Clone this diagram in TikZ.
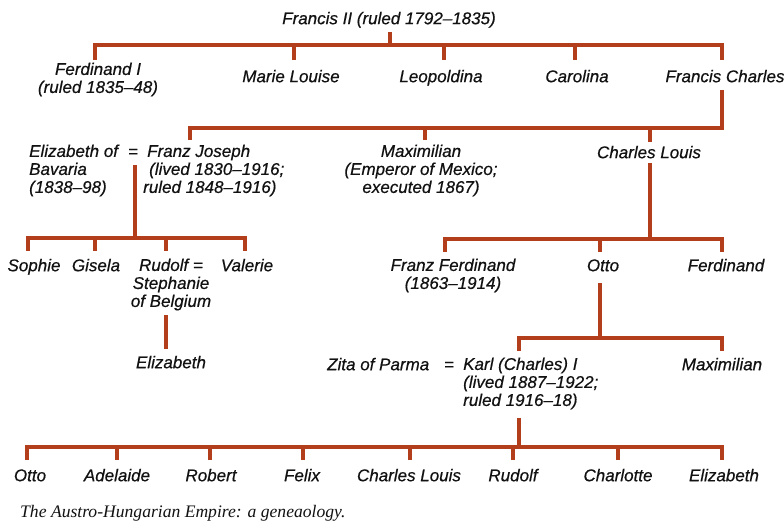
\documentclass[tikz,border=0pt]{standalone}
\usepackage{fontspec}
\setmainfont[FakeBold=0.5]{Liberation Sans}
\newfontfamily\capfont{Liberation Serif}
\definecolor{lineC}{RGB}{178,62,28}
\definecolor{txtC}{RGB}{18,18,18}
\begin{document}
\begin{tikzpicture}[x=1pt,y=-1pt,
  fam/.style={draw=lineC,line width=3.2pt},
  nm/.style={text=txtC,inner sep=0pt,font=\fontsize{17}{18}\selectfont\itshape,anchor=north,yshift=12.6pt,execute at begin node=\strut},
  nml/.style={nm,anchor=north west,align=left},
  nmc/.style={nm,align=center},
  capt/.style={text=txtC,inner sep=0pt,anchor=base west,font=\capfont\itshape\fontsize{17.6}{18}\selectfont}]
\useasboundingbox (0,0) rectangle (784,523);
\fill[white] (0,0) rectangle (784,523);

% ---------- names ----------
\node[nm] (fII) at (389,24) {Francis II (ruled 1792–1835)};
\node[nmc] (ferd) at (98,75) {Ferdinand I\\(ruled 1835–48)};
\node[nm] (marie) at (291,82) {Marie Louise};
\node[nm] (leop) at (441,82) {Leopoldina};
\node[nm] (carol) at (577,82) {Carolina};
\node[nm] (fch) at (725,82) {Francis Charles};

\node[nml] (elb) at (29,157) {Elizabeth of\\Bavaria\\(1838–98)};
\node[nm] (eq1) at (133,157) {=};
\node[nml] (fj) at (143,157) {\hspace{4pt}Franz Joseph\\\hspace{6pt}(lived 1830–1916;\\ruled 1848–1916)};
\node[nmc] (maxi) at (421,157) {Maximilian\\(Emperor of Mexico;\\executed 1867)};
\node[nm] (cl) at (649,158) {Charles Louis};

\node[nm] (soph) at (34,271) {Sophie};
\node[nm] (gis) at (96,271) {Gisela};
\node[nmc] (rud) at (171,271) {Rudolf =\\Stephanie\\of Belgium};
\node[nm] (val) at (247,271) {Valerie};
\node[nm] (elz) at (171,368) {Elizabeth};

\node[nmc] (ff) at (453,271) {Franz Ferdinand\\(1863–1914)};
\node[nm] (otto) at (603,271) {Otto};
\node[nm] (ferd2) at (726,271) {Ferdinand};

\node[nm,anchor=north west] (zita) at (327,370) {Zita of Parma};
\node[nm] (eq2) at (449,370) {=};
\node[nml] (karl) at (463,370) {Karl (Charles) I\\(lived 1887–1922;\\ruled 1916–18)};
\node[nm] (max2) at (722,370) {Maximilian};

\node[nm] (k1) at (30,481) {Otto};
\node[nm] (k2) at (117,481) {Adelaide};
\node[nm] (k3) at (211,481) {Robert};
\node[nm] (k4) at (302,481) {Felix};
\node[nm] (k5) at (409,481) {Charles Louis};
\node[nm] (k6) at (513,481) {Rudolf};
\node[nm] (k7) at (618,481) {Charlotte};
\node[nm] (k8) at (724,481) {Elizabeth};

\node[capt] (cap) at (20,517) {The Austro-Hungarian Empire: a geneaology.};

% ---------- connectors ----------
% Francis II -> children
\coordinate (p1) at (390,32); \coordinate (b1) at (390,45);
\coordinate (d1a) at (95,60); \coordinate (d1b) at (294,60); \coordinate (d1c) at (444,60);
\coordinate (d1d) at (575,60); \coordinate (d1e) at (722,60);
\draw[fam] (p1) -- (b1);
\draw[fam] (d1a) |- (b1) -| (d1e);
\foreach \d in {d1b,d1c,d1d} \draw[fam] (\d) -- (\d |- b1);

% Francis Charles -> children
\coordinate (p2) at (722,90); \coordinate (b2) at (722,128);
\coordinate (d2a) at (190,140); \coordinate (d2b) at (425,140); \coordinate (d2c) at (650,142);
\draw[fam] (d2a) |- (b2) -- (p2);
\foreach \d in {d2b,d2c} \draw[fam] (\d) -- (\d |- b2);

% Franz Joseph & Elizabeth -> children
\coordinate (p3) at (135,165); \coordinate (b3) at (135,238);
\coordinate (d3a) at (28,251); \coordinate (d3b) at (95,251); \coordinate (d3c) at (166,251); \coordinate (d3d) at (245,251);
\draw[fam] (p3) -- (b3);
\draw[fam] (d3a) |- (b3) -| (d3d);
\foreach \d in {d3b,d3c} \draw[fam] (\d) -- (\d |- b3);

% Rudolf -> Elizabeth
\coordinate (p4) at (166,315); \coordinate (d4) at (166,349);
\draw[fam] (p4) -- (d4);

% Charles Louis -> children
\coordinate (p5) at (650,163); \coordinate (b5) at (650,239);
\coordinate (d5a) at (445,252); \coordinate (d5b) at (600,252); \coordinate (d5c) at (722,252);
\draw[fam] (p5) -- (b5);
\draw[fam] (d5a) |- (b5) -| (d5c);
\draw[fam] (d5b) -- (d5b |- b5);

% Otto -> children
\coordinate (p6) at (600,283); \coordinate (b6) at (600,338);
\coordinate (d6a) at (519,351); \coordinate (d6b) at (722,351);
\draw[fam] (p6) -- (b6);
\draw[fam] (d6a) |- (b6) -| (d6b);

% Karl & Zita -> children
\coordinate (p7) at (519,418); \coordinate (b7) at (519,447);
\coordinate (d7a) at (27,460); \coordinate (d7b) at (117,460); \coordinate (d7c) at (210,460);
\coordinate (d7d) at (303,460); \coordinate (d7e) at (410,460); \coordinate (d7f) at (513,460);
\coordinate (d7g) at (618,460); \coordinate (d7h) at (722,460);
\draw[fam] (p7) -- (b7);
\draw[fam] (d7a) |- (b7) -| (d7h);
\foreach \d in {d7b,d7c,d7d,d7e,d7f,d7g} \draw[fam] (\d) -- (\d |- b7);
\end{tikzpicture}
\end{document}
